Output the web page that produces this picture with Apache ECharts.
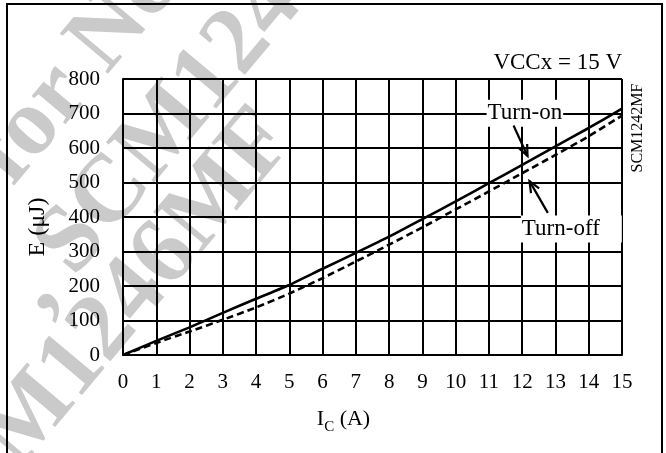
<!DOCTYPE html>
<html><head><meta charset="utf-8">
<script src="https://cdn.jsdelivr.net/npm/echarts@6/dist/echarts.min.js"></script>
<style>html,body{margin:0;padding:0;background:#fff}#c{width:666px;height:453px}</style>
</head><body><div id="c"></div>
<script>
// ---- data ----
const currentA = [0,1,2,3,4,5,6,7,8,9,10,11,12,13,14,15];
const turnOn  = [0,41,80,122,163,203,250,296,343,394,445,498,551,605,658,714];
const turnOff = [0,35,68,102,138,178,223,271,320,370,422,474,527,580,634,694];
const xTicks = [0,15,1];      // min, max, interval
const yTicks = [0,800,100];
const seriesNames = ['Turn-on','Turn-off'];
// annotation labels: [text, x, y] (left-middle anchor in data units)
const labelAnchors = [['Turn-on', 10.93, 701], ['Turn-off', 11.96, 365]];
// arrows: [fromX, fromY, toX, toY] in data units
const arrows = [[11.74, 665, 12.16, 577], [12.77, 412, 12.22, 504]];
const conditionText = 'VCCx = 15 V';
const partText = 'SCM1242MF';
const watermark = ['Not for New Design', ', SCM1245MF', 'SCM1246MF'];

const serif = '"Liberation Serif","Times New Roman",serif';
const chart = echarts.init(document.getElementById('c'), null, {renderer:'canvas'});
const axisCommon = {
  type:'value',
  axisLine:{show:true, onZero:false, lineStyle:{color:'#000', width:2}},
  axisTick:{show:false},
  splitLine:{show:true, lineStyle:{color:'#000', width:2}},
};
chart.setOption({
  animation:false,
  backgroundColor:'#fff',
  grid:{left:123, top:79, width:499, height:276},
  xAxis: Object.assign({}, axisCommon, {
    min:xTicks[0], max:xTicks[1], interval:xTicks[2],
    axisLabel:{color:'#000', fontFamily:serif, fontSize:21, margin:17},
    name:'{a|I}{b|C}{a| (A)}', nameLocation:'middle', nameGap:53,
    nameTextStyle:{padding:[0,58,0,0], rich:{
      a:{fontFamily:serif, fontSize:22, color:'#000', lineHeight:24, verticalAlign:'top'},
      b:{fontFamily:serif, fontSize:15, color:'#000', lineHeight:16, verticalAlign:'top', padding:[12,0,0,0]}
    }}
  }),
  yAxis: Object.assign({}, axisCommon, {
    min:yTicks[0], max:yTicks[1], interval:yTicks[2],
    axisLabel:{color:'#000', fontFamily:serif, fontSize:21, margin:23},
    name:'E (μJ)', nameLocation:'middle', nameGap:73, nameRotate:90,
    nameTextStyle:{fontFamily:serif, fontSize:24, color:'#000', padding:[0,20,0,0]}
  }),
  series:[
    {name:seriesNames[0], type:'line', z:5, showSymbol:false, smooth:0.2,
     data: currentA.map((x,i)=>[x, turnOn[i]]), lineStyle:{color:'#000', width:2.6}},
    {name:seriesNames[1], type:'line', z:5, showSymbol:false, smooth:0.2,
     data: currentA.map((x,i)=>[x, turnOff[i]]), lineStyle:{color:'#000', width:2.6, type:[7,4]}}
  ]
});

const px = p => chart.convertToPixel({gridIndex:0}, p);
const g = [];
// watermark
const wmPos = [[140,-3],[218,68],[99,336]];
watermark.forEach((t,i)=>{
  g.push({type:'text', x:wmPos[i][0], y:wmPos[i][1], rotation:50*Math.PI/180, z:-10, silent:true,
    style:{text:t, font:'bold 96px '+serif, fill:'#cacaca', textAlign:'center', textVerticalAlign:'middle'}});
});
// frame
g.push({type:'rect', shape:{x:7,y:4,width:655,height:470}, z:50, style:{fill:'none', stroke:'#000', lineWidth:2}});
// condition text
const tr = px([xTicks[1], yTicks[1]]);
g.push({type:'text', x:tr[0], y:tr[1]-16, z:60, style:{text:conditionText, font:'23px '+serif, fill:'#000', textAlign:'right', textVerticalAlign:'middle'}});
g.push({type:'text', x:tr[0]+16, y:tr[1]+49, rotation:Math.PI/2, z:60, style:{text:partText, font:'16px '+serif, fill:'#000', textAlign:'center', textVerticalAlign:'middle'}});
// labels
labelAnchors.forEach((a,i)=>{
  const p = px([a[1], a[2]]);
  g.push({type:'text', x:p[0], y:p[1], z:60, style:{text:a[0], font:'23px '+serif, fill:'#000', textAlign:'left', textVerticalAlign:'middle',
    backgroundColor:'#fff', padding: i===0 ? [2,1,2,1] : [2,22,2,1]}});
});
// arrows
arrows.forEach(a=>{
  const s = px([a[0],a[1]]), e = px([a[2],a[3]]);
  const ang = Math.atan2(e[1]-s[1], e[0]-s[0]);
  const L = 12, h = 0.4;
  const p1 = [e[0]-L*Math.cos(ang-h), e[1]-L*Math.sin(ang-h)];
  const p2 = [e[0]-L*Math.cos(ang+h), e[1]-L*Math.sin(ang+h)];
  g.push({type:'polyline', z:61, shape:{points:[s,e]}, style:{stroke:'#000', lineWidth:2.2, fill:null}});
  g.push({type:'polyline', z:61, shape:{points:[p1,e,p2]}, style:{stroke:'#000', lineWidth:2.2, fill:null}});
});
chart.setOption({graphic:g});
</script></body></html>
